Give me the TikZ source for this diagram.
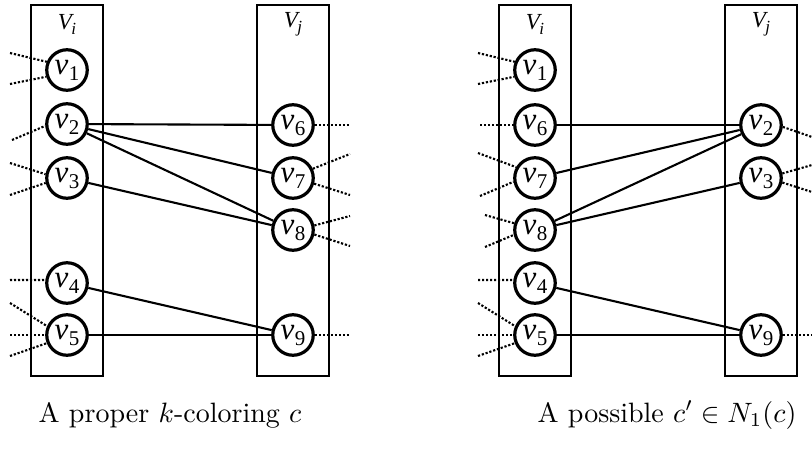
\documentclass[tikz,border=0pt]{standalone}
\usepackage{fontspec}
\newfontfamily\tms{Liberation Serif}
\newcommand{\vlab}[1]{{\tms\fontsize{31}{31}\selectfont\itshape v}\kern0.3pt{\tms\fontsize{21}{21}\selectfont\raisebox{-6pt}{#1}}}
\newcommand{\setlab}[1]{{\tms\fontsize{23}{23}\selectfont\itshape V}\kern-0.5pt{\tms\fontsize{17}{17}\selectfont\itshape\raisebox{-5pt}{#1}}}
\begin{document}
\begin{tikzpicture}[x=1pt,y=-1pt,
  vert/.style={circle, draw, fill=white, line width=3.2pt, minimum size=40.5pt, inner sep=0pt},
  part/.style={draw, line width=2.4pt, minimum width=72pt, minimum height=371pt, inner sep=0pt},
  edge/.style={line width=2.1pt},
  stub/.style={line width=2.1pt, dash pattern=on 2.2pt off 1.8pt},
  captxt/.style={scale=2.8, inner sep=0pt, anchor=base}]
\useasboundingbox (0,0) rectangle (812,448);

% ---------- left diagram ----------
\node[part] (LBi) at (67,190.5) {};
\node[part] (LBj) at (293,190.5) {};
\node (LVi) at (67,24) {\setlab{i}};
\node (LVj) at (293,24) {\setlab{j}};

\node[vert] (a1) at (67,70) {\vlab{1}};
\node[vert] (a2) at (67,124) {\vlab{2}};
\node[vert] (a3) at (67,178) {\vlab{3}};
\node[vert] (a4) at (67,283) {\vlab{4}};
\node[vert] (a5) at (67,335) {\vlab{5}};
\node[vert] (a6) at (293,125) {\vlab{6}};
\node[vert] (a7) at (293,178) {\vlab{7}};
\node[vert] (a8) at (293,230) {\vlab{8}};
\node[vert] (a9) at (293,335) {\vlab{9}};

\draw[edge] (a2) -- (a6);
\draw[edge] (a2) -- (a7);
\draw[edge] (a2) -- (a8);
\draw[edge] (a3) -- (a8);
\draw[edge] (a4) -- (a9);
\draw[edge] (a5) -- (a9);

\coordinate (la1) at (10,53);  \coordinate (la2) at (10,84);
\coordinate (la3) at (12,140);
\coordinate (la4) at (10,163); \coordinate (la5) at (10,195);
\coordinate (la6) at (10,280);
\coordinate (la7) at (10,303); \coordinate (la8) at (10,335); \coordinate (la9) at (10,356);
\draw[stub] (la1) -- (a1.158);
\draw[stub] (la2) -- (a1.198);
\draw[stub] (la3) -- (a2.185);
\draw[stub] (la4) -- (a3.170);
\draw[stub] (la5) -- (a3.193);
\draw[stub] (la6) -- (a4.172);
\draw[stub] (la7) -- (a5.156);
\draw[stub] (la8) -- (a5.180);
\draw[stub] (la9) -- (a5.202);

\coordinate (ra1) at (350,125);
\coordinate (ra2) at (350,154); \coordinate (ra3) at (350,195);
\coordinate (ra4) at (350,216); \coordinate (ra5) at (350,246);
\coordinate (ra6) at (350,335);
\draw[stub] (a6.0) -- (ra1);
\draw[stub] (a7.25) -- (ra2);
\draw[stub] (a7.-15) -- (ra3);
\draw[stub] (a8.12) -- (ra4);
\draw[stub] (a8.-12) -- (ra5);
\draw[stub] (a9.0) -- (ra6);

\node[captxt] (capL) at (170,422) {A proper $k$-coloring $c$};

% ---------- right diagram ----------
\node[part] (RBi) at (535,190.5) {};
\node[part] (RBj) at (761,190.5) {};
\node (RVi) at (535,24) {\setlab{i}};
\node (RVj) at (761,24) {\setlab{j}};

\node[vert] (b1) at (535,70) {\vlab{1}};
\node[vert] (b6) at (535,125) {\vlab{6}};
\node[vert] (b7) at (535,178) {\vlab{7}};
\node[vert] (b8) at (535,230) {\vlab{8}};
\node[vert] (b4) at (535,283) {\vlab{4}};
\node[vert] (b5) at (535,335) {\vlab{5}};
\node[vert] (b2) at (761,125) {\vlab{2}};
\node[vert] (b3) at (761,178) {\vlab{3}};
\node[vert] (b9) at (761,335) {\vlab{9}};

\draw[edge] (b6) -- (b2);
\draw[edge] (b7) -- (b2);
\draw[edge] (b8) -- (b2);
\draw[edge] (b8) -- (b3);
\draw[edge] (b4) -- (b9);
\draw[edge] (b5) -- (b9);

\coordinate (lb1) at (478,53);  \coordinate (lb2) at (478,84);
\coordinate (lb3) at (480,125);
\coordinate (lb4) at (478,153); \coordinate (lb5) at (480,196);
\coordinate (lb6) at (485,215); \coordinate (lb7) at (485,247);
\coordinate (lb8) at (478,280);
\coordinate (lb9) at (478,303); \coordinate (lb10) at (478,335); \coordinate (lb11) at (478,356);
\draw[stub] (lb1) -- (b1.158);
\draw[stub] (lb2) -- (b1.198);
\draw[stub] (lb3) -- (b6.180);
\draw[stub] (lb4) -- (b7.150);
\draw[stub] (lb5) -- (b7.190);
\draw[stub] (lb6) -- (b8.162);
\draw[stub] (lb7) -- (b8.193);
\draw[stub] (lb8) -- (b4.172);
\draw[stub] (lb9) -- (b5.156);
\draw[stub] (lb10) -- (b5.180);
\draw[stub] (lb11) -- (b5.202);

\coordinate (rb1) at (812,137);
\coordinate (rb2) at (812,165); \coordinate (rb3) at (812,192);
\coordinate (rb4) at (812,335);
\draw[stub] (b2.-5) -- (rb1);
\draw[stub] (b3.12) -- (rb2);
\draw[stub] (b3.-12) -- (rb3);
\draw[stub] (b9.0) -- (rb4);

\node[captxt] (capR) at (667,422) {A possible $c' \in N_1(c)$};
\end{tikzpicture}
\end{document}
